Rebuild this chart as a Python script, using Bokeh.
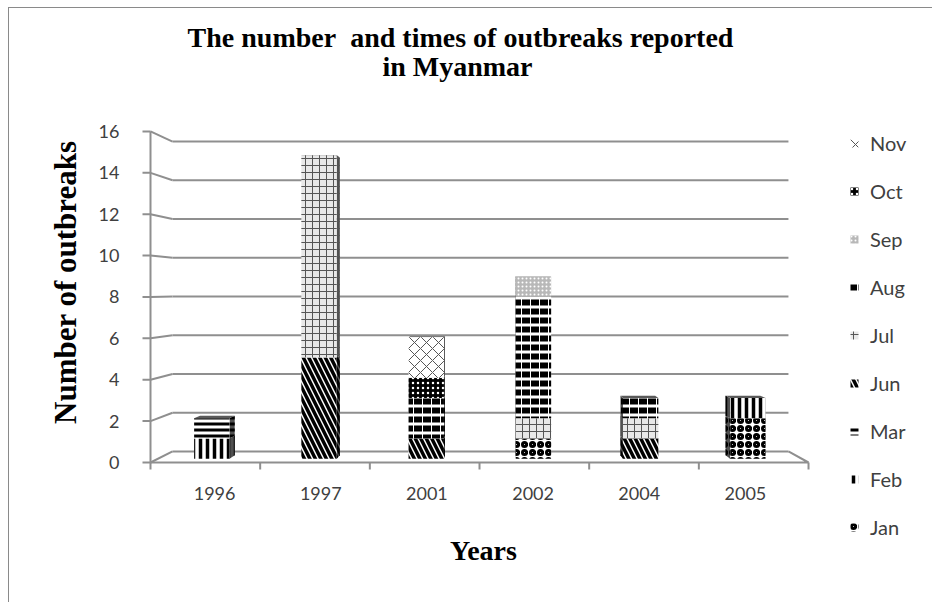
import numpy as np
from bokeh.plotting import figure
from bokeh.models import (Range1d, FixedTicker, Legend, LegendItem, Label,
                          ColumnDataSource)
from bokeh.core.properties import value
from bokeh.embed import file_html
from bokeh.resources import INLINE

# ---- data ---------------------------------------------------------------
years = ["1996", "1997", "2001", "2002", "2004", "2005"]
months = ["Jan", "Feb", "Mar", "Jun", "Jul", "Aug", "Sep", "Oct", "Nov"]

jan = [0, 0, 0, 1, 0, 2]
feb = [1, 0, 0, 0, 0, 1]
mar = [1, 0, 0, 0, 0, 0]
jun = [0, 5, 1, 0, 1, 0]
jul = [0, 10, 0, 1, 1, 0]
aug = [0, 0, 2, 6, 1, 0]
sep = [0, 0, 0, 1, 0, 0]
oct_ = [0, 0, 1, 0, 0, 0]
nov = [0, 0, 2, 0, 0, 0]
counts = [jan, feb, mar, jun, jul, aug, sep, oct_, nov]

y_ticks = [0, 2, 4, 6, 8, 10, 12, 14, 16]

# ---- page geometry -----------------------------------------------------------
W, H = 932, 602
LEFT = 140                    # left border holding the value axis labels
ORIGIN_X, ORIGIN_Y = 150, 462  # pixel position of (category 0, count 0) on the front plane
PX_U, PX_V = 109.67, 20.69     # pixels per category slot / per outbreak


def to_u(px):
    return (px - ORIGIN_X) / PX_U


def to_v(py):
    return (ORIGIN_Y - py) / PX_V


# ---- 3-D box: data space is the front plane; deeper planes shrink ------------
VP_U, VP_V = 3.14, 8.36       # vanishing point
SHRINK = 0.064                # scale lost between the front (d=0) and back wall (d=1)
HALF_W = 0.165
D_FRONT, D_BACK = 0.35, 0.65


def proj(u, v, d):
    s = 1.0 - SHRINK * d
    return VP_U + (u - VP_U) * s, VP_V + (v - VP_V) * s


n_cat = len(years)
y_top = y_ticks[-1]
axis_bottom = to_v(469)

p = figure(width=W, height=H, output_backend="svg", toolbar_location=None,
           x_range=Range1d(to_u(LEFT), to_u(W)), y_range=Range1d(to_v(H), to_v(0)),
           x_axis_location=None,
           min_border_left=LEFT, min_border_right=0, min_border_top=0, min_border_bottom=0)
p.outline_line_color = None
p.xgrid.visible = False
p.ygrid.visible = False
p.background_fill_color = None
p.border_fill_color = None
# thin chart-area border along the left and top edges
p.styles = {
    "background": "linear-gradient(#8a8a8a, #8a8a8a) 8px 7px / 1px 100% no-repeat, "
                  "linear-gradient(#8a8a8a, #8a8a8a) 8px 7px / 100% 1px no-repeat, white"
}

GRID = "#8f8f8f"
TICK_FONT = "Lato"
TEXT_GREY = "#404040"

# back wall, left wall and floor edges
gx, gy = [], []
for v in y_ticks:
    a, b = proj(0, v, 1), proj(n_cat, v, 1)
    gx.append([a[0], b[0]]); gy.append([a[1], b[1]])
    c = proj(0, v, 0)
    gx.append([c[0], a[0]]); gy.append([c[1], a[1]])
f0, f1, f2 = proj(0, 0, 0), proj(n_cat, 0, 0), proj(n_cat, 0, 1)
gx.append([f0[0], f1[0], f2[0]]); gy.append([f0[1], f1[1], f2[1]])
# category boundary ticks below the front edge of the floor
for k in range(1, n_cat + 1):
    gx.append([k, k]); gy.append([0, axis_bottom])
# value axis line and its outward ticks
gx.append([0, 0]); gy.append([axis_bottom, y_top])
tick_len = 8 / PX_U
for v in y_ticks:
    gx.append([-tick_len, 0]); gy.append([v, v])
p.multi_line(gx, gy, line_color=GRID, line_width=2)

# ---- fill patterns for each month -------------------------------------------
styles = {
    "Jan": dict(fill_color="white", hatch_pattern="ring", hatch_color="black",
                hatch_weight=3, hatch_scale=8),
    "Feb": dict(fill_color="white", hatch_pattern="vertical_line", hatch_color="black",
                hatch_weight=3.5, hatch_scale=7),
    "Mar": dict(fill_color="white", hatch_pattern="horizontal_line", hatch_color="black",
                hatch_weight=3, hatch_scale=6),
    "Jun": dict(fill_color="white", hatch_pattern="left_diagonal_line", hatch_color="black",
                hatch_weight=3.5, hatch_scale=11),
    "Jul": dict(fill_color="#e8e8e8", hatch_pattern="cross", hatch_color="#555555",
                hatch_weight=1, hatch_scale=7),
    "Aug": dict(fill_color="white", hatch_pattern="horizontal_dash", hatch_color="black",
                hatch_weight=6, hatch_scale=9),
    "Sep": dict(fill_color="#b8b8b8", hatch_pattern="dot", hatch_color="white",
                hatch_weight=1, hatch_scale=4),
    "Oct": dict(fill_color="black", hatch_pattern="dot", hatch_color="white",
                hatch_weight=1, hatch_scale=5),
    "Nov": dict(fill_color="white", hatch_pattern="diagonal_cross", hatch_color="#555555",
                hatch_weight=1, hatch_scale=12),
}

# ---- stacked 3-D columns ---------------------------------------------------
bottoms = np.zeros(n_cat)
fronts, sides = {}, {}
for m, vals in zip(months, counts):
    fx, fy, sx, sy = [], [], [], []
    for i, val in enumerate(vals):
        if val == 0:
            continue
        v0, v1 = bottoms[i], bottoms[i] + val
        u0, u1 = i + 0.5 - HALF_W, i + 0.5 + HALF_W
        quad = [proj(u0, v0, D_FRONT), proj(u1, v0, D_FRONT),
                proj(u1, v1, D_FRONT), proj(u0, v1, D_FRONT)]
        fx.append([q[0] for q in quad]); fy.append([q[1] for q in quad])
        su = u1 if i + 0.5 < VP_U else u0
        side = [proj(su, v0, D_FRONT), proj(su, v0, D_BACK),
                proj(su, v1, D_BACK), proj(su, v1, D_FRONT)]
        sx.append([q[0] for q in side]); sy.append([q[1] for q in side])
        bottoms[i] = v1
    fronts[m] = (fx, fy)
    sides[m] = (sx, sy)

# side faces (darker), then top faces, then the front faces on top
for m in months:
    st = dict(styles[m])
    st["fill_color"] = "#505050" if st["fill_color"] != "black" else "#202020"
    p.patches(*sides[m], line_color=None, **st)

tx, ty = [], []
for i in range(n_cat):
    v = bottoms[i]
    u0, u1 = i + 0.5 - HALF_W, i + 0.5 + HALF_W
    quad = [proj(u0, v, D_FRONT), proj(u1, v, D_FRONT),
            proj(u1, v, D_BACK), proj(u0, v, D_BACK)]
    tx.append([q[0] for q in quad]); ty.append([q[1] for q in quad])
p.patches(tx, ty, fill_color="#5a5a5a", line_color=None)

renderers = {}
for m in months:
    renderers[m] = p.patches(*fronts[m], line_color=None, **styles[m])

# ---- value axis (line and ticks drawn above; the axis supplies the labels) ---
p.yaxis.ticker = FixedTicker(ticks=y_ticks)
p.yaxis.axis_line_color = None
p.yaxis.major_tick_line_color = None
p.yaxis.minor_tick_line_color = None
p.yaxis.major_label_text_font = TICK_FONT
p.yaxis.major_label_text_font_size = "18px"
p.yaxis.major_label_text_color = TEXT_GREY
p.yaxis.major_label_standoff = 15
# the no-break spaces lift the label a little above the middle of the axis
p.yaxis.axis_label = "\u00a0" * 5 + "Number of outbreaks"
p.yaxis.axis_label_text_font = "Liberation Serif"
p.yaxis.axis_label_text_font_style = "bold"
p.yaxis.axis_label_text_font_size = "31px"
p.yaxis.axis_label_text_color = "black"
p.yaxis.axis_label_standoff = 13

# ---- category labels, centred on the middle depth of the box ---------------
year_src = ColumnDataSource(dict(x=[proj(i + 0.5, 0, 0.5)[0] for i in range(n_cat)],
                                 y=[to_v(493)] * n_cat, text=years))
p.text(x="x", y="y", text="text", source=year_src, text_align="center",
       text_baseline="middle", text_font=value(TICK_FONT), text_font_size="18px",
       text_color=TEXT_GREY)

SERIF_BOLD = dict(text_font="Liberation Serif", text_font_style="bold", text_color="black",
                  text_align="center", text_baseline="middle", text_font_size="28px")
p.add_layout(Label(x=to_u(483), y=to_v(550), text="Years", **SERIF_BOLD))

# ---- two-line title ----------------------------------------------------------
p.add_layout(Label(x=to_u(460), y=to_v(37),
                   text="The number\u00a0 and times of outbreaks reported", **SERIF_BOLD))
p.add_layout(Label(x=to_u(457), y=to_v(66), text="in Myanmar", **SERIF_BOLD))

# ---- legend -----------------------------------------------------------------
legend = Legend(items=[LegendItem(label=m, renderers=[renderers[m]]) for m in reversed(months)],
                location=(849 - LEFT, H - 539), padding=0, margin=0, spacing=24,
                glyph_width=10, glyph_height=10, label_height=24, label_standoff=11,
                label_text_font=TICK_FONT, label_text_font_size="20px",
                label_text_color=TEXT_GREY, label_text_baseline="middle",
                background_fill_alpha=0, border_line_color=None)
p.add_layout(legend)

open("out.html", "w").write(file_html(p, INLINE))
